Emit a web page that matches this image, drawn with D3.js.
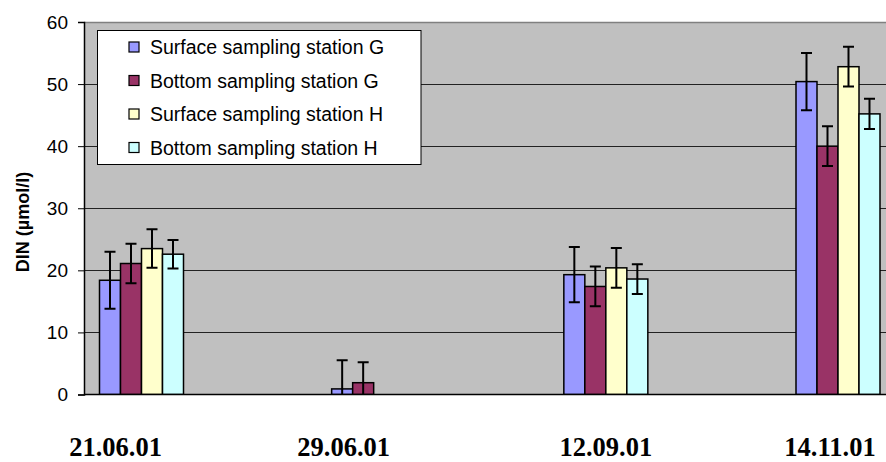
<!DOCTYPE html>
<meta charset="utf-8" />
<style>
  body {
    margin: 0;
    background: #fff;
  }
  .tick text {
    font-family: Arial, 'Liberation Sans', sans-serif;
    font-size: 19px;
    fill: #000;
  }
  .axis path,
  .axis line {
    stroke: #000;
  }
</style>
<svg width="886" height="462"></svg>
<script src="https://d3js.org/d3.v7.min.js"></script>
<script>
  // sampling dates (categories)
  var dates = ['21.06.01', '29.06.01', '12.09.01', '14.11.01'];
  var seriesNames = [
    'Surface sampling station G',
    'Bottom sampling station G',
    'Surface sampling station H',
    'Bottom sampling station H',
  ];
  var seriesColors = ['#9999ff', '#993366', '#ffffcc', '#ccffff'];

  // DIN means and error (+/-) per series, by date
  var surfaceG = [18.4, 0.9, 19.3, 50.4];
  var surfaceGErr = [4.6, 4.6, 4.45, 4.6];
  var bottomG = [21.1, 1.9, 17.4, 40.0];
  var bottomGErr = [3.2, 3.3, 3.2, 3.2];
  var surfaceH = [23.5, null, 20.4, 52.8];
  var surfaceHErr = [3.1, null, 3.2, 3.2];
  var bottomH = [22.6, null, 18.6, 45.2];
  var bottomHErr = [2.3, null, 2.4, 2.45];

  var yTicks = [0, 10, 20, 30, 40, 50, 60];
  // date labels sit a little off the bar groups in the original
  var labelDx = [-26, -30, 0, -8];

  var values = [surfaceG, bottomG, surfaceH, bottomH];
  var errors = [surfaceGErr, bottomGErr, surfaceHErr, bottomHErr];

  var svg = d3.select('svg'),
    margin = { top: 22, right: 0, bottom: 68, left: 84 },
    width = +svg.attr('width') - margin.left - margin.right,
    height = 394.5 - margin.top;

  var x = d3
    .scalePoint()
    .domain(dates)
    .range([141.5 - margin.left, 838 - margin.left]);
  var xs = d3.scaleBand().domain(d3.range(4)).range([-42, 42]);
  var y = d3.scaleLinear().domain([0, 60]).range([height, 0]);

  var g = svg
    .append('g')
    .attr('transform', 'translate(' + margin.left + ',' + margin.top + ')');

  g.append('defs')
    .append('clipPath')
    .attr('id', 'plotclip')
    .append('rect')
    .attr('x', 0)
    .attr('y', 0)
    .attr('width', width + 20)
    .attr('height', height);

  g.append('rect')
    .attr('width', width + 20)
    .attr('height', height)
    .attr('fill', '#c0c0c0');

  g.append('line')
    .attr('x1', 0)
    .attr('x2', width + 20)
    .attr('y1', 0.5)
    .attr('y2', 0.5)
    .attr('stroke', '#808080')
    .attr('stroke-width', 1.5);

  g.selectAll('.grid')
    .data(yTicks.slice(1, -1))
    .enter()
    .append('line')
    .attr('class', 'grid')
    .attr('x1', 0)
    .attr('x2', width + 20)
    .attr('y1', (d) => Math.round(y(d)) + 0.5)
    .attr('y2', (d) => Math.round(y(d)) + 0.5)
    .attr('stroke', '#222')
    .attr('stroke-width', 1);

  var rows = [];
  dates.forEach(function (dt, i) {
    values.forEach(function (s, j) {
      if (s[i] != null)
        rows.push({ date: dt, k: j, v: s[i], e: errors[j][i] });
    });
  });

  var plot = g.append('g').attr('clip-path', 'url(#plotclip)');

  plot
    .selectAll('.bar')
    .data(rows)
    .enter()
    .append('rect')
    .attr('class', 'bar')
    .attr('x', (d) => x(d.date) + xs(d.k))
    .attr('y', (d) => y(d.v))
    .attr('width', xs.bandwidth())
    .attr('height', (d) => y(0) - y(d.v))
    .attr('fill', (d) => seriesColors[d.k])
    .attr('stroke', '#000')
    .attr('stroke-width', 1.5);

  var eb = plot
    .selectAll('.err')
    .data(rows)
    .enter()
    .append('g')
    .attr('class', 'err')
    .attr('stroke', '#000')
    .attr('stroke-width', 2)
    .attr(
      'transform',
      (d) => 'translate(' + (x(d.date) + xs(d.k) + xs.bandwidth() / 2) + ',0)'
    );
  eb.append('line')
    .attr('y1', (d) => y(d.v + d.e))
    .attr('y2', (d) => y(d.v - d.e));
  eb.append('line')
    .attr('x1', -5.5)
    .attr('x2', 5.5)
    .attr('y1', (d) => y(d.v + d.e))
    .attr('y2', (d) => y(d.v + d.e));
  eb.append('line')
    .attr('x1', -5.5)
    .attr('x2', 5.5)
    .attr('y1', (d) => y(d.v - d.e))
    .attr('y2', (d) => y(d.v - d.e));

  g.append('g')
    .attr('class', 'axis')
    .call(d3.axisLeft(y).tickValues(yTicks).tickSize(6).tickPadding(10))
    .call((a) => a.select('.domain').attr('stroke-width', 1.5));

  g.append('line')
    .attr('x1', 0)
    .attr('x2', width + 20)
    .attr('y1', height)
    .attr('y2', height)
    .attr('stroke', '#000')
    .attr('stroke-width', 1.5);

  svg
    .append('text')
    .attr('transform', 'translate(29,222) rotate(-90)')
    .attr('text-anchor', 'middle')
    .style('font-family', 'Arial, "Liberation Sans", sans-serif')
    .style('font-weight', 'bold')
    .style('font-size', '18px')
    .text('DIN (µmol/l)');

  svg
    .selectAll('.date')
    .data(dates)
    .enter()
    .append('text')
    .attr('class', 'date')
    .attr('x', (d, i) => margin.left + x(d) + labelDx[i])
    .attr('y', 456)
    .attr('text-anchor', 'middle')
    .style('font-family', '"Times New Roman", "Liberation Serif", serif')
    .style('font-weight', 'bold')
    .style('font-size', '26.5px')
    .text((d) => d);

  // legend
  var legend = svg.append('g').attr('transform', 'translate(97.5,30.5)');
  legend
    .append('rect')
    .attr('width', 323.5)
    .attr('height', 134)
    .attr('fill', '#fff')
    .attr('stroke', '#000')
    .attr('stroke-width', 1);
  var item = legend
    .selectAll('.item')
    .data(seriesNames)
    .enter()
    .append('g')
    .attr('class', 'item')
    .attr('transform', (d, i) => 'translate(0,' + (16.5 + i * 33.5) + ')');
  item
    .append('rect')
    .attr('x', 31.5)
    .attr('y', -5)
    .attr('width', 10)
    .attr('height', 10)
    .attr('fill', (d, i) => seriesColors[i])
    .attr('stroke', '#000')
    .attr('stroke-width', 1.2);
  item
    .append('text')
    .attr('x', 52.5)
    .attr('dy', '0.36em')
    .style('font-family', 'Arial, "Liberation Sans", sans-serif')
    .style('font-size', '19.5px')
    .text((d) => d);
</script>
